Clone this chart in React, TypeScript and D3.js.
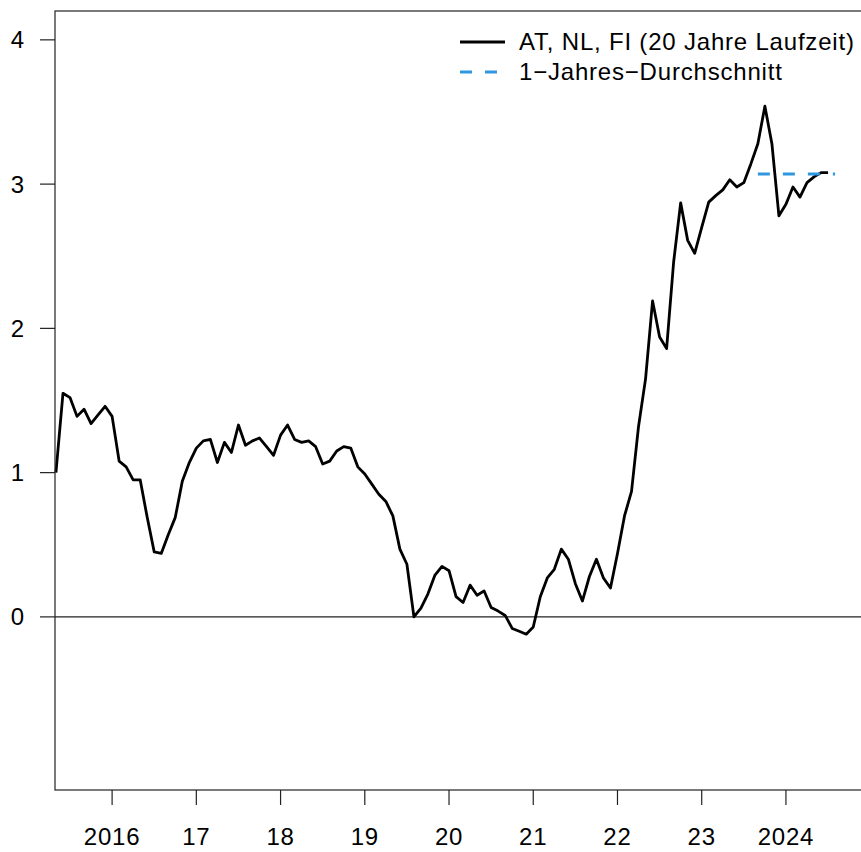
import * as d3 from "d3";

// Monthly yields, starting May 2015
const startYear = 2015;
const startMonth = 5;
const yields = [
  1.0, 1.55, 1.52, 1.39, 1.44, 1.34, 1.4, 1.46,
  1.39, 1.08, 1.04, 0.95, 0.95, 0.69, 0.45, 0.44, 0.57, 0.69, 0.94, 1.07,
  1.17, 1.22, 1.23, 1.07, 1.21, 1.14, 1.33, 1.19, 1.22, 1.24, 1.18, 1.12,
  1.26, 1.33, 1.23, 1.21, 1.22, 1.18, 1.06, 1.08, 1.15, 1.18, 1.17, 1.04,
  0.99, 0.92, 0.85, 0.8, 0.7, 0.47, 0.365, 0.0, 0.06, 0.16, 0.29, 0.35,
  0.32, 0.14, 0.1, 0.22, 0.15, 0.18, 0.065, 0.04, 0.01, -0.08, -0.1, -0.12,
  -0.07, 0.14, 0.27, 0.33, 0.47, 0.4, 0.23, 0.11, 0.28, 0.4, 0.27, 0.2,
  0.44, 0.7, 0.87, 1.32, 1.65, 2.19, 1.94, 1.86, 2.46, 2.87, 2.61, 2.52,
  2.7, 2.875, 2.92, 2.96, 3.03, 2.98, 3.01, 3.14, 3.28, 3.54, 3.28, 2.78,
  2.86, 2.98, 2.91, 3.01, 3.05, 3.08, 3.08,
];

// 1-year average, Sep 2023 – Aug 2024
const avgFrom = 2023 + 8 / 12;
const avgTo = 2024 + 7 / 12;
const avgValue = 3.07;

const yTicks = [0, 1, 2, 3, 4];
const xTickYears = [2016, 2017, 2018, 2019, 2020, 2021, 2022, 2023, 2024];
const xTickLabels = ["2016", "17", "18", "19", "20", "21", "22", "23", "2024"];
const legendLabels = ["AT, NL, FI (20 Jahre Laufzeit)", "1\u2212Jahres\u2212Durchschnitt"];

const W = 861;
const H = 852;
const left = 55;
const top = 11;
const right = 862;
const bottom = 790;
const font = "'Liberation Sans', Arial, Helvetica, sans-serif";
const fontSize = 24;
const spacing = 0.8;
const blue = "#2f96e0";

type Pt = { t: number; v: number };

export default function App() {
  const data: Pt[] = yields.map((v, i) => ({
    t: startYear + (startMonth - 1 + i) / 12,
    v,
  }));

  const x = d3.scaleLinear().domain([2015.322, 2024.903]).range([left, right]);
  const y = d3.scaleLinear().domain([-1.2, 4.2]).range([bottom, top]);

  const line = d3
    .line<Pt>()
    .x((d) => x(d.t))
    .y((d) => y(d.v));

  const avgLine = line([
    { t: avgFrom, v: avgValue },
    { t: avgTo, v: avgValue },
  ]);

  return (
    <svg
      width={W}
      height={H}
      style={{ position: "absolute", left: 0, top: 0, background: "#fff" }}
      fontFamily={font}
      fontSize={fontSize}
      letterSpacing={spacing}
    >
      <rect x={0} y={0} width={W} height={H} fill="#fff" />
      {/* zero line */}
      <line x1={left} x2={right} y1={y(0)} y2={y(0)} stroke="#222" strokeWidth={1.2} />
      {/* series */}
      <path
        d={line(data) ?? ""}
        fill="none"
        stroke="#000"
        strokeWidth={2.8}
        strokeLinejoin="round"
      />
      <path
        d={avgLine ?? ""}
        fill="none"
        stroke={blue}
        strokeWidth={2.8}
        strokeDasharray="12 13"
      />
      {/* box */}
      <rect
        x={left}
        y={top}
        width={right - left}
        height={bottom - top}
        fill="none"
        stroke="#222"
        strokeWidth={1.2}
      />
      {/* y axis */}
      {yTicks.map((t) => (
        <g key={t}>
          <line x1={left - 15} x2={left} y1={y(t)} y2={y(t)} stroke="#222" strokeWidth={1.2} />
          <text x={25} y={y(t) + 8.5} textAnchor="end" fill="#000">
            {t}
          </text>
        </g>
      ))}
      {/* x axis */}
      {xTickYears.map((yr, i) => (
        <g key={yr}>
          <line x1={x(yr)} x2={x(yr)} y1={bottom} y2={bottom + 15} stroke="#222" strokeWidth={1.2} />
          <text x={x(yr)} y={845} textAnchor="middle" fill="#000">
            {xTickLabels[i]}
          </text>
        </g>
      ))}
      {/* legend */}
      <line x1={460} x2={505} y1={42} y2={42} stroke="#000" strokeWidth={2.8} />
      <line
        x1={460}
        x2={505}
        y1={72}
        y2={72}
        stroke={blue}
        strokeWidth={2.8}
        strokeDasharray="12 13"
      />
      {legendLabels.map((l, i) => (
        <text key={l} x={519} y={50 + i * 30} fill="#000">
          {l}
        </text>
      ))}
    </svg>
  );
}
